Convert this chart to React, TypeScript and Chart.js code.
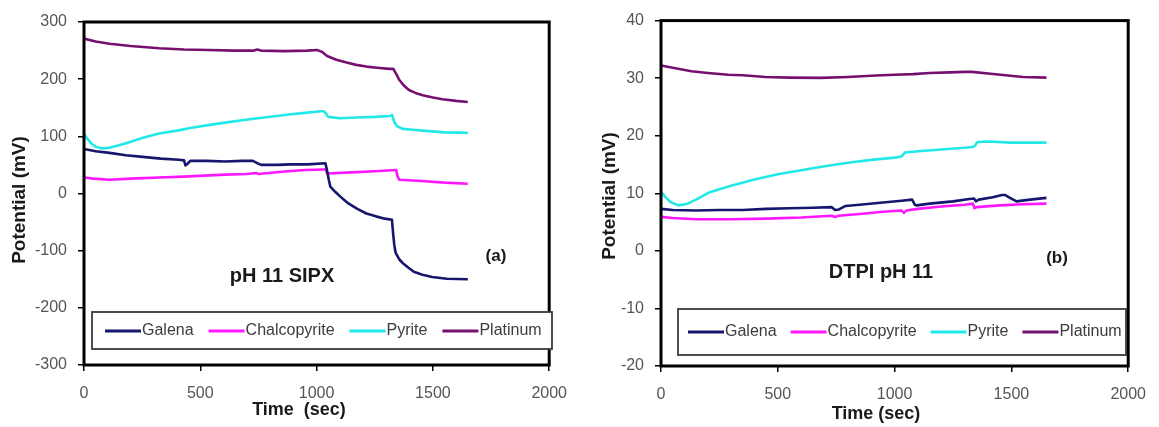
import React, { useEffect, useRef } from "react";
import { Chart, registerables } from "chart.js";

Chart.register(...registerables);

const FONT = '"Liberation Sans", Arial, Helvetica, sans-serif';

// Mineral / electrode series shared by both panels
const seriesNames = ["Galena", "Chalcopyrite", "Pyrite", "Platinum"];
const seriesColors = ["#16166e", "#ff18ff", "#22e8e8", "#761070"];

// Time axis ticks (sec)
const timeTicks = [0, 500, 1000, 1500, 2000];

// Panel (a): pH 11 SIPX, potentials in mV
const sipxTicks = [-300, -200, -100, 0, 100, 200, 300];

const sipxGalenaTime = [0, 50, 110, 180, 252, 330, 408, 430, 436, 445, 457, 530, 606, 680, 726, 745, 762, 830, 889, 960, 1038, 1045, 1052, 1059, 1080, 1101, 1135, 1175, 1214, 1255, 1293, 1324, 1329, 1334, 1340, 1355, 1371, 1395, 1418, 1455, 1497, 1560, 1650];
const sipxGalenaMv = [78, 74, 71, 67, 64, 61, 59, 58, 49, 52, 57, 57, 56, 57, 57, 53, 50, 50, 51, 51, 53, 40, 25, 12, 3, -5, -17, -27, -35, -40, -44, -46, -70, -90, -104, -115, -122, -130, -137, -142, -146, -149, -150];

const sipxChalcoTime = [0, 40, 110, 200, 323, 428, 606, 700, 740, 750, 850, 950, 1030, 1040, 1045, 1150, 1250, 1342, 1348, 1355, 1450, 1550, 1650];
const sipxChalcoMv = [28, 26, 24, 26, 28, 29.5, 33, 34, 36, 34, 38, 41, 42, 42, 35, 37, 39, 41, 30, 24, 22, 19, 17];

const sipxPyriteTime = [0, 10, 30, 50, 75, 110, 181, 250, 323, 400, 463, 540, 606, 680, 747, 820, 889, 950, 1016, 1030, 1040, 1050, 1101, 1172, 1250, 1313, 1325, 1334, 1345, 1370, 1400, 1456, 1550, 1650];
const sipxPyriteMv = [105, 98, 88, 82, 79, 80, 88, 97, 105, 110, 115, 120, 124, 128, 131.5, 135, 138.5, 141, 144, 144, 140, 134, 131.5, 133, 134, 135.6, 137, 125, 118, 113, 112, 110, 107, 106];

const sipxPlatinumTime = [0, 50, 110, 200, 323, 430, 535, 650, 730, 745, 760, 860, 960, 1002, 1015, 1023, 1045, 1085, 1129, 1170, 1214, 1260, 1313, 1330, 1334, 1345, 1355, 1375, 1397, 1425, 1456, 1500, 1541, 1600, 1650];
const sipxPlatinumMv = [271, 266, 262, 258, 254, 252, 251, 250, 250, 252, 250, 249, 250, 251, 249, 248, 240.5, 234, 229, 225, 222, 220, 218, 218, 215, 207, 199, 189, 181, 176, 172, 168, 165, 162, 160];

// Panel (b): DTPI pH 11, potentials in mV
const dtpiTicks = [-20, -10, 0, 10, 20, 30, 40];

const dtpiGalenaTime = [0, 50, 150, 250, 350, 450, 550, 650, 730, 745, 762, 790, 850, 950, 1030, 1075, 1087, 1095, 1150, 1250, 1320, 1340, 1348, 1360, 1420, 1460, 1474, 1490, 1522, 1580, 1650];
const dtpiGalenaMv = [7.3, 7.1, 7.0, 7.1, 7.1, 7.3, 7.4, 7.5, 7.6, 7.1, 7.2, 7.8, 8.0, 8.4, 8.7, 8.9, 8.0, 7.9, 8.2, 8.6, 9.0, 9.1, 8.6, 8.9, 9.3, 9.7, 9.7, 9.3, 8.6, 8.9, 9.2];

const dtpiChalcoTime = [0, 50, 150, 300, 450, 600, 730, 745, 760, 850, 950, 1030, 1040, 1050, 1100, 1200, 1300, 1335, 1342, 1350, 1450, 1550, 1650];
const dtpiChalcoMv = [5.9, 5.7, 5.5, 5.5, 5.6, 5.8, 6.1, 5.9, 6.1, 6.4, 6.8, 7.0, 6.6, 7.0, 7.3, 7.7, 8.0, 8.2, 7.4, 7.6, 7.9, 8.1, 8.2];

const dtpiPyriteTime = [0, 20, 40, 75, 114, 150, 209, 300, 400, 500, 600, 700, 800, 900, 1000, 1030, 1045, 1100, 1200, 1300, 1340, 1355, 1400, 1500, 1650];
const dtpiPyriteMv = [10.3, 9.3, 8.5, 7.9, 8.2, 8.9, 10.2, 11.3, 12.4, 13.3, 14.0, 14.7, 15.3, 15.8, 16.2, 16.4, 17.1, 17.3, 17.6, 17.9, 18.1, 18.9, 19.0, 18.8, 18.8];

const dtpiPlatinumTime = [0, 50, 130, 200, 288, 350, 420, 446, 550, 683, 800, 921, 1000, 1079, 1150, 1237, 1300, 1332, 1400, 1474, 1550, 1650];
const dtpiPlatinumMv = [32.2, 31.8, 31.2, 30.9, 30.6, 30.5, 30.3, 30.2, 30.1, 30.05, 30.2, 30.45, 30.6, 30.7, 30.9, 31.0, 31.1, 31.1, 30.8, 30.5, 30.2, 30.1];

type Pt = { x: number; y: number };
const toPoints = (t: number[], v: number[]): Pt[] => t.map((x, i) => ({ x, y: v[i] }));

// Draws the heavy plot frame, the boxed legend and the panel captions.
const panelDecor = {
  id: "panelDecor",
  afterDatasetsDraw(chart: any, _args: any, o: any) {
    const { ctx, chartArea: a } = chart;
    ctx.save();

    ctx.strokeStyle = "#000";
    ctx.lineWidth = 3;
    ctx.strokeRect(a.left, a.top, a.right - a.left, a.bottom - a.top);

    // legend box
    const lb = o.legendBox;
    ctx.fillStyle = "#fff";
    ctx.fillRect(lb.x, lb.y, lb.w, lb.h);
    ctx.strokeStyle = "#3a3a3a";
    ctx.lineWidth = 1.8;
    ctx.strokeRect(lb.x, lb.y, lb.w, lb.h);

    ctx.font = `16px ${FONT}`;
    ctx.textBaseline = "middle";
    ctx.textAlign = "left";
    let x = o.legendStart;
    const ly = o.legendY;
    chart.data.datasets.forEach((ds: any) => {
      ctx.strokeStyle = ds.borderColor;
      ctx.lineWidth = 3.2;
      ctx.beginPath();
      ctx.moveTo(x, ly);
      ctx.lineTo(x + 36, ly);
      ctx.stroke();
      x += 37;
      ctx.fillStyle = "#3c3c3c";
      ctx.fillText(ds.label, x, ly);
      x += ctx.measureText(ds.label).width + o.legendGap;
    });

    // captions
    ctx.fillStyle = "#1a1a1a";
    ctx.textAlign = "center";
    ctx.font = `bold 20px ${FONT}`;
    ctx.fillText(o.caption, o.captionPos[0], o.captionPos[1]);
    ctx.font = `bold 17px ${FONT}`;
    ctx.fillText(o.tag, o.tagPos[0], o.tagPos[1]);

    // axis titles
    ctx.font = `bold 18px ${FONT}`;
    ctx.fillText(o.xTitle, o.xTitlePos[0], o.xTitlePos[1]);
    ctx.save();
    ctx.translate(o.yTitlePos[0], o.yTitlePos[1]);
    ctx.rotate(-Math.PI / 2);
    ctx.font = `bold 19px ${FONT}`;
    ctx.fillText("Potential (mV)", 0, 0);
    ctx.restore();

    ctx.restore();
  },
};

type PanelCfg = {
  width: number;
  padTop: number;
  padRight: number;
  yWidth: number;
  xHeight: number;
  yTicks: number[];
  series: Pt[][];
  decor: any;
};

function buildConfig(cfg: PanelCfg): any {
  const tickFont = { family: FONT, size: 16 };
  const grid = { drawOnChartArea: false, drawTicks: true, tickLength: 6, color: "#000", lineWidth: 1.5 };
  return {
    type: "line",
    data: {
      datasets: cfg.series.map((pts, i) => ({
        label: seriesNames[i],
        data: pts,
        borderColor: seriesColors[i],
        backgroundColor: seriesColors[i],
        borderWidth: 2.6,
        pointRadius: 0,
        tension: 0,
        fill: false,
        borderJoinStyle: "round",
      })),
    },
    options: {
      animation: false,
      responsive: false,
      devicePixelRatio: 1,
      layout: { padding: { top: cfg.padTop, right: cfg.padRight, left: 0, bottom: 0 } },
      plugins: {
        legend: { display: false },
        tooltip: { enabled: false },
        panelDecor: cfg.decor,
      },
      scales: {
        x: {
          type: "linear",
          min: timeTicks[0],
          max: timeTicks[timeTicks.length - 1],
          afterBuildTicks: (s: any) => {
            s.ticks = timeTicks.map((v) => ({ value: v }));
          },
          afterFit: (s: any) => {
            s.height = cfg.xHeight;
          },
          ticks: { color: "#555", font: tickFont, padding: 13, maxRotation: 0, callback: (v: any) => String(v) },
          grid,
          border: { display: false },
        },
        y: {
          type: "linear",
          min: cfg.yTicks[0],
          max: cfg.yTicks[cfg.yTicks.length - 1],
          afterBuildTicks: (s: any) => {
            s.ticks = cfg.yTicks.map((v) => ({ value: v }));
          },
          afterFit: (s: any) => {
            s.width = cfg.yWidth;
          },
          ticks: { color: "#555", font: tickFont, padding: 11, callback: (v: any) => String(v) },
          grid,
          border: { display: false },
        },
      },
    },
    plugins: [panelDecor],
  };
}

const sipxPanel: PanelCfg = {
  width: 580,
  padTop: 22,
  padRight: 25,
  yWidth: 84,
  xHeight: 62,
  yTicks: sipxTicks,
  series: [
    toPoints(sipxGalenaTime, sipxGalenaMv),
    toPoints(sipxChalcoTime, sipxChalcoMv),
    toPoints(sipxPyriteTime, sipxPyriteMv),
    toPoints(sipxPlatinumTime, sipxPlatinumMv),
  ],
  decor: {
    legendBox: { x: 92, y: 312, w: 460, h: 37 },
    legendStart: 105,
    legendY: 331,
    legendGap: 15,
    caption: "pH 11 SIPX",
    captionPos: [282, 276],
    tag: "(a)",
    tagPos: [496, 256],
    xTitle: "Time  (sec)",
    xTitlePos: [299, 410],
    yTitlePos: [20, 200],
  },
};

const dtpiPanel: PanelCfg = {
  width: 579,
  padTop: 16,
  padRight: 28,
  yWidth: 81,
  xHeight: 61,
  yTicks: dtpiTicks,
  series: [
    toPoints(dtpiGalenaTime, dtpiGalenaMv),
    toPoints(dtpiChalcoTime, dtpiChalcoMv),
    toPoints(dtpiPyriteTime, dtpiPyriteMv),
    toPoints(dtpiPlatinumTime, dtpiPlatinumMv),
  ],
  decor: {
    legendBox: { x: 98, y: 309, w: 448, h: 46 },
    legendStart: 108,
    legendY: 332,
    legendGap: 14,
    caption: "DTPI pH 11",
    captionPos: [301, 272],
    tag: "(b)",
    tagPos: [477, 258],
    xTitle: "Time (sec)",
    xTitlePos: [296, 414],
    yTitlePos: [30, 196],
  },
};

function Panel({ cfg, left }: { cfg: PanelCfg; left: number }) {
  const ref = useRef<HTMLCanvasElement>(null);
  useEffect(() => {
    const chart = new Chart(ref.current as HTMLCanvasElement, buildConfig(cfg));
    return () => chart.destroy();
  }, [cfg]);
  return (
    <canvas
      ref={ref}
      width={cfg.width}
      height={427}
      style={{ position: "absolute", left, top: 0, width: cfg.width, height: 427 }}
    />
  );
}

export default function App() {
  return (
    <div style={{ position: "fixed", left: 0, top: 0, width: 1159, height: 427, background: "#fff", overflow: "hidden" }}>
      <Panel cfg={sipxPanel} left={0} />
      <Panel cfg={dtpiPanel} left={580} />
    </div>
  );
}
